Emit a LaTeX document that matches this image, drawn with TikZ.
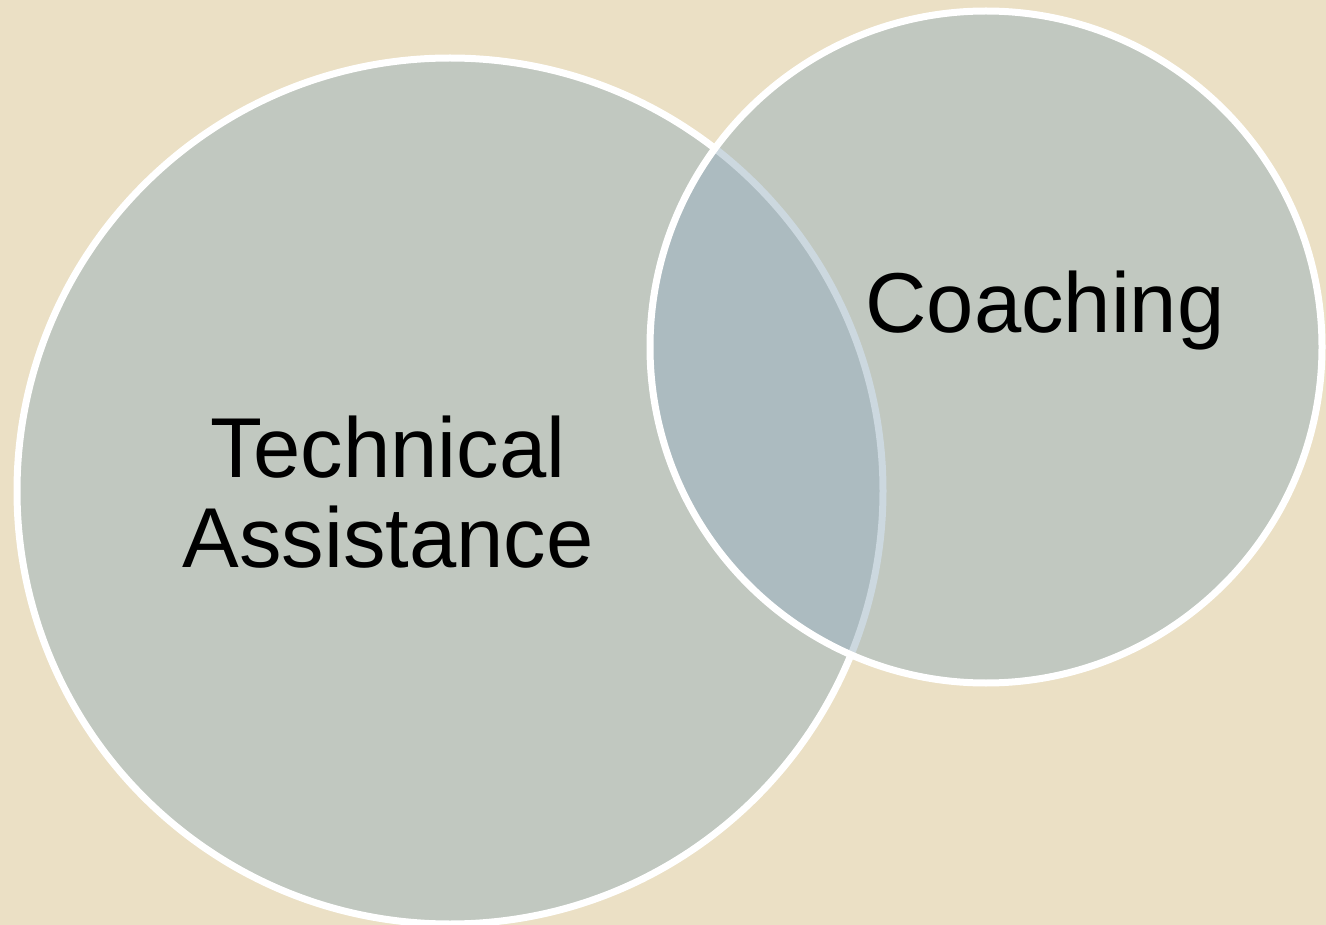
\documentclass[tikz,border=0pt]{standalone}
\usepackage{fontspec}
\setmainfont{Liberation Sans}
\usetikzlibrary{positioning}
\definecolor{paper}{HTML}{EBE0C5}
\definecolor{sage}{HTML}{C1C8C0}
\definecolor{mist}{HTML}{ACBBC0}
\definecolor{paleline}{HTML}{CCD8DF}

\begin{document}
\begin{tikzpicture}[x=1pt,y=-1pt]
\fill[paper] (0,0) rectangle (1326,925);
\useasboundingbox (0,0) rectangle (1326,925);
% the two circles, big one first
\fill[sage] (450,491) circle (433);
\draw[white, line width=7pt] (450,491) circle (433);
\fill[sage] (986,347) circle (336);
% overlap
\begin{scope}
    \clip (450,491) circle (433);
    \fill[mist] (986,347) circle (336);
\end{scope}
\begin{scope}
    \clip (986,347) circle (336);
    \draw[paleline, line width=7pt] (450,491) circle (433);
\end{scope}
\draw[white, line width=7pt] (986,347) circle (336);
% labels
\node[align=center, inner sep=0pt, font=\fontsize{85}{90}\selectfont] (tech) at (388,492) {Technical\\Assistance};
\node[anchor=base, inner sep=0pt, font=\fontsize{85}{90}\selectfont] (coach) at (1045,333) {Coaching};
\end{tikzpicture}
\end{document}
